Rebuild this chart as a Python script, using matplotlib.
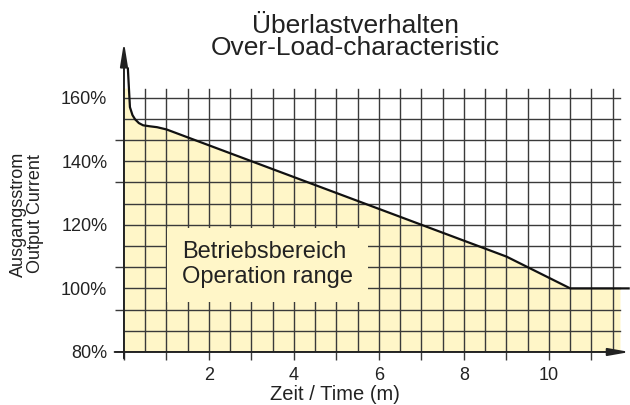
import numpy as np
import matplotlib
matplotlib.use("Agg")
import matplotlib.pyplot as plt
from matplotlib.patches import Rectangle

plt.rcParams['font.family'] = ['Liberation Sans', 'DejaVu Sans']

# ---- data ----
curve_x = [0.09, 0.12, 0.14, 0.2, 0.26, 0.35, 0.45, 0.6, 0.78, 1.0, 9.0, 10.5, 11.9]
curve_y = [169.5, 162.0, 157.0, 154.5, 153.2, 152.0, 151.3, 151.0, 150.7, 150.0, 110.0, 100.0, 100.0]
fill_cap = 163.0
fill_end = 11.67
y_tick_labels = [80, 100, 120, 140, 160]
x_tick_labels = [2, 4, 6, 8, 10]

title1 = "Überlastverhalten"
title2 = "Over-Load-characteristic"
ylabel1 = "Ausgangsstrom"
ylabel2 = "Output Current"
xlabel = "Zeit / Time (m)"
region1 = "Betriebsbereich"
region2 = "Operation range"

YELLOW = '#FFF6C8'
DARK = '#222222'
GRID = '#3a3a3a'

fig = plt.figure(figsize=(6.3, 4.05), dpi=100)
ax = fig.add_axes([0.1968, 0.1309, 0.8028, 0.7654])
ax.set_xlim(0, 11.9)
ax.set_ylim(80, 177.5)
for s in ax.spines.values():
    s.set_visible(False)
ax.patch.set_visible(False)

# fill
fx = [0.0] + [x for x in curve_x if x < fill_end] + [fill_end]
fy = [fill_cap] + [min(y, fill_cap) for y in curve_y][:len(fx) - 2] + [100.0]
ax.fill_between(fx, 80, fy, color=YELLOW, lw=0, zorder=1)

# grid
grid_top = 162.8
for gx in np.arange(0.5, 11.51, 0.5):
    ax.plot([gx, gx], [80, grid_top], color=GRID, lw=1.0, zorder=2)
for k in range(1, 13):
    gy = 80 + 20 / 3 * k
    ax.plot([0, fill_end], [gy, gy], color=GRID, lw=1.0, zorder=2)

# region label box
ax.add_patch(Rectangle((1.01, 95.7), 4.73, 23.3, facecolor=YELLOW, edgecolor='none', zorder=3))
ax.text(1.36, 109.5, region1, fontsize=17, color=DARK, va='baseline', ha='left', zorder=4)
ax.text(1.36, 101.6, region2, fontsize=17, color=DARK, va='baseline', ha='left', zorder=4)

# curve
ax.plot(curve_x, curve_y, color='#111111', lw=1.6, zorder=5, solid_capstyle='butt')

# axes with arrows
ax.annotate('', xy=(11.9, 80), xytext=(-0.22, 80),
            arrowprops=dict(arrowstyle='-|>,head_length=0.9,head_width=0.16', color=DARK,
                            lw=1.4, shrinkA=0, shrinkB=0, mutation_scale=14),
            annotation_clip=False, zorder=6)
ax.annotate('', xy=(0, 177.5), xytext=(0, 78),
            arrowprops=dict(arrowstyle='-|>,head_length=1.0,head_width=0.16', color=DARK,
                            lw=1.4, shrinkA=0, shrinkB=0, mutation_scale=14),
            annotation_clip=False, zorder=6)

# ticks
ax.set_yticks(y_tick_labels)
ax.set_yticklabels([f"{v}%" for v in y_tick_labels])
ax.set_yticks([80 + 40 / 3 * k for k in range(7)], minor=True)
ax.tick_params(axis='y', which='major', length=0, pad=12, labelsize=13, labelcolor=DARK)
ax.tick_params(axis='y', which='minor', length=6.5, width=1.0, color=GRID, direction='out')

ax.set_xticks(x_tick_labels)
ax.set_xticklabels([str(v) for v in x_tick_labels])
ax.set_xticks(list(range(0, 12)), minor=True)
ax.tick_params(axis='x', which='major', length=5.8, width=1.0, color=GRID, pad=5, labelsize=13, labelcolor=DARK)
ax.tick_params(axis='x', which='minor', length=5.8, width=1.0, color=GRID)

# titles & labels
fig.text(355 / 630, 1 - 33 / 405, title1, fontsize=19, color=DARK, ha='center', va='baseline')
fig.text(355 / 630, 1 - 55 / 405, title2, fontsize=19, color=DARK, ha='center', va='baseline')
fig.text(18.5 / 630, 1 - 214 / 405, ylabel1, fontsize=13, color=DARK, rotation=90, ha='center', va='center')
fig.text(35 / 630, 1 - 214 / 405, ylabel2, fontsize=13, color=DARK, rotation=90, ha='center', va='center')
fig.text(335 / 630, 1 - 400 / 405, xlabel, fontsize=14.5, color=DARK, ha='center', va='baseline')

fig.savefig('out.png', dpi=100)
